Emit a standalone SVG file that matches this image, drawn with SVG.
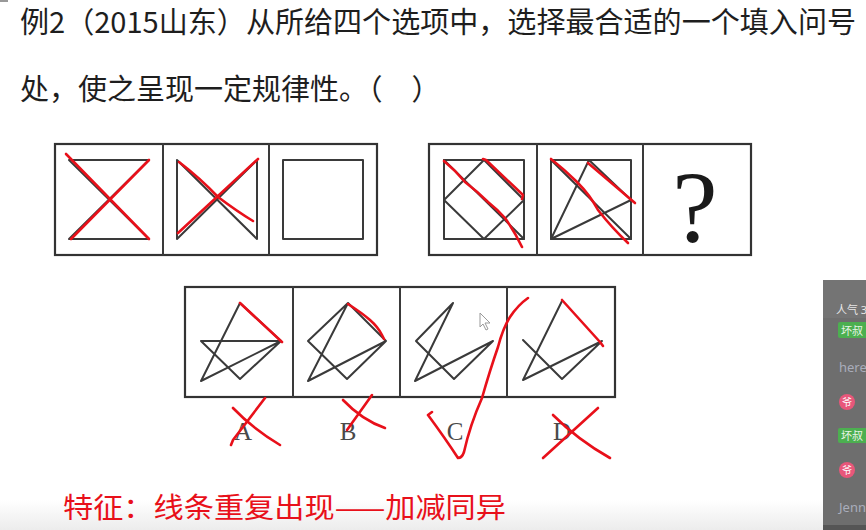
<svg xmlns="http://www.w3.org/2000/svg" width="866" height="530" viewBox="0 0 866 530">
<defs>
<linearGradient id="bot" x1="0" y1="0" x2="0" y2="1"><stop offset="0" stop-color="#ffffff"/><stop offset="1" stop-color="#ececec"/></linearGradient>
</defs>
<style>
.frame{fill:#fff;stroke:#333;stroke-width:2.2}
.ln{fill:none;stroke:#3a3a3a;stroke-width:2;stroke-linejoin:round;stroke-linecap:round}
.red{fill:none;stroke:#e8101a;stroke-width:2.6;stroke-linecap:round;stroke-linejoin:round}
.title{font-family:"Microsoft YaHei","Noto Sans CJK SC","Noto Sans",sans-serif;font-size:29px;fill:#1e1e1e}
.lbl{font-family:"Liberation Serif",serif;font-size:25px;fill:#4a4a4a;text-anchor:middle}
.side{font-family:"Noto Sans","Noto Sans CJK SC",sans-serif}
</style>
<rect width="866" height="530" fill="#fff"/>
<rect x="0" y="500" width="823" height="30" fill="url(#bot)"/>
<rect x="0" y="0" width="8" height="2" fill="#999"/>

<g id="title">
<text class="title" x="20" y="33" textLength="836" lengthAdjust="spacingAndGlyphs">例2（2015山东）从所给四个选项中，选择最合适的一个填入问号</text>
<text class="title" x="20" y="100">处，使之呈现一定规律性。（　）</text>
</g>

<g id="row1-left">
<rect class="frame" x="55" y="144" width="322" height="111"/>
<line class="ln" x1="163" y1="144" x2="163" y2="255" stroke-width="2.2"/>
<line class="ln" x1="269" y1="144" x2="269" y2="255" stroke-width="2.2"/>
</g>
<g id="fig1">
<path class="ln" d="M69,160 H149 L69,239 H149 Z"/>
<path class="red" d="M66,154 L68,156 L149,239 M71,239 L149,160"/>
</g>
<g id="fig2">
<path class="ln" d="M177,160 V239 L257,160 V239 Z"/>
<path class="red" d="M179,162 Q200,178 218,197 Q238,212 253,221 M178,233 L258,159"/>
</g>
<g id="fig3">
<rect class="ln" x="283" y="160" width="80" height="79"/>
</g>

<g id="row1-right">
<rect class="frame" x="429" y="144" width="322" height="111"/>
<line class="ln" x1="537" y1="144" x2="537" y2="255" stroke-width="2.2"/>
<line class="ln" x1="643" y1="144" x2="643" y2="255" stroke-width="2.2"/>
</g>
<g id="fig4">
<rect class="ln" x="444" y="160" width="80" height="79"/>
<path class="ln" d="M484,160 L524,200 L484,239 L444,200 Z M444,160 L524,239"/>
<path class="red" d="M444,161 Q455,170 465,182 Q478,192 488,202 Q498,210 505,218 Q515,232 522,247 M483,159 L486,160 L523,195 L522,199"/>
</g>
<g id="fig5">
<rect class="ln" x="551" y="160" width="80" height="79"/>
<path class="ln" d="M551,160 L631,239 M551,239 L589,160 L631,200 L551,239"/>
<path class="red" d="M551,159 Q565,170 577,182 Q590,195 598,210 Q612,228 628,243 M588,163 L635,203"/>
</g>
<g id="fig6">
<text x="695" y="242" font-family="Liberation Serif, serif" font-size="102" fill="#1a1a1a" text-anchor="middle">?</text>
</g>

<g id="row2">
<rect class="frame" x="185" y="287" width="430" height="110"/>
<line class="ln" x1="293" y1="287" x2="293" y2="397" stroke-width="2.2"/>
<line class="ln" x1="400" y1="287" x2="400" y2="397" stroke-width="2.2"/>
<line class="ln" x1="507" y1="287" x2="507" y2="397" stroke-width="2.2"/>
</g>
<g id="optA">
<path class="ln" d="M240,303 L201,381 L281,341 L240,379 L201,341 H281 L240,303"/>
<path class="red" d="M240,303 L282,342"/>
<text class="lbl" x="243" y="440">A</text>
<path class="red" d="M265,398 L233,440 L231,445 M233,408 Q252,428 280,445"/>
</g>
<g id="optB">
<path class="ln" d="M348,303 L308,341 L347,379 L386,341 L308,381 L348,303 L386,341"/>
<path class="red" d="M348,304 Q362,313 370,320 Q378,327 382,335 L384,339"/>
<text class="lbl" x="348" y="440">B</text>
<path class="red" d="M372,395 L347,430 M343,400 Q362,420 385,428"/>
</g>
<g id="optC">
<path class="ln" d="M453,303 L416,341 L454,379 L493,341 L415,381 L453,303"/>
<text class="lbl" x="455" y="440">C</text>
<path class="red" d="M432,412 L428,415 Q445,438 458,458 Q462,458 464,452 Q470,425 482,398 Q490,370 498,347 Q503,328 510,317 Q518,305 528,298"/>
</g>
<g id="optD">
<path class="ln" d="M562,301 L523,380 L602,341 L562,379 L523,340"/>
<path class="red" d="M562,300 L600,342 L603,346"/>
<text class="lbl" x="562" y="440">D</text>
<path class="red" d="M598,408 L543,458 M553,415 Q578,440 610,458"/>
</g>
<g id="cursor">
<path d="M480,313 L480,327 L483,324 L486,330 L488,329 L485,323 L490,323 Z" fill="#fff" stroke="#999" stroke-width="1"/>
</g>

<g id="bottom-note">
<text x="63" y="518" font-family="Microsoft YaHei, Noto Sans CJK SC, sans-serif" font-size="28" fill="#e8101a" textLength="443" lengthAdjust="spacingAndGlyphs">特征：线条重复出现——加减同异</text>
</g>

<g id="sidebar">
<rect x="823" y="280" width="43" height="250" fill="#6e6e6e"/>
<rect x="823" y="280" width="43" height="38" fill="#747474"/>
<text class="side" x="836" y="314" font-size="11" fill="#e6e6e6">人气 3</text>
<rect x="838" y="322" width="30" height="16" rx="2" fill="#4caf50"/>
<text class="side" x="841" y="335" font-size="11" fill="#e8f5e8">坏叔</text>
<text class="side" x="839" y="372" font-size="13" fill="#a9adbb">here</text>
<circle cx="847" cy="402" r="8" fill="#e8577a"/>
<text class="side" x="847" y="406" font-size="10" fill="#fff" text-anchor="middle">爷</text>
<rect x="838" y="428" width="30" height="15" rx="2" fill="#4caf50"/>
<text class="side" x="841" y="440" font-size="11" fill="#e8f5e8">坏叔</text>
<circle cx="847" cy="470" r="8" fill="#e8577a"/>
<text class="side" x="847" y="474" font-size="10" fill="#fff" text-anchor="middle">爷</text>
<text class="side" x="839" y="512" font-size="13" fill="#a9adbb">Jenn</text>
<rect x="823" y="525" width="43" height="5" fill="#555"/>
</g>
</svg>
